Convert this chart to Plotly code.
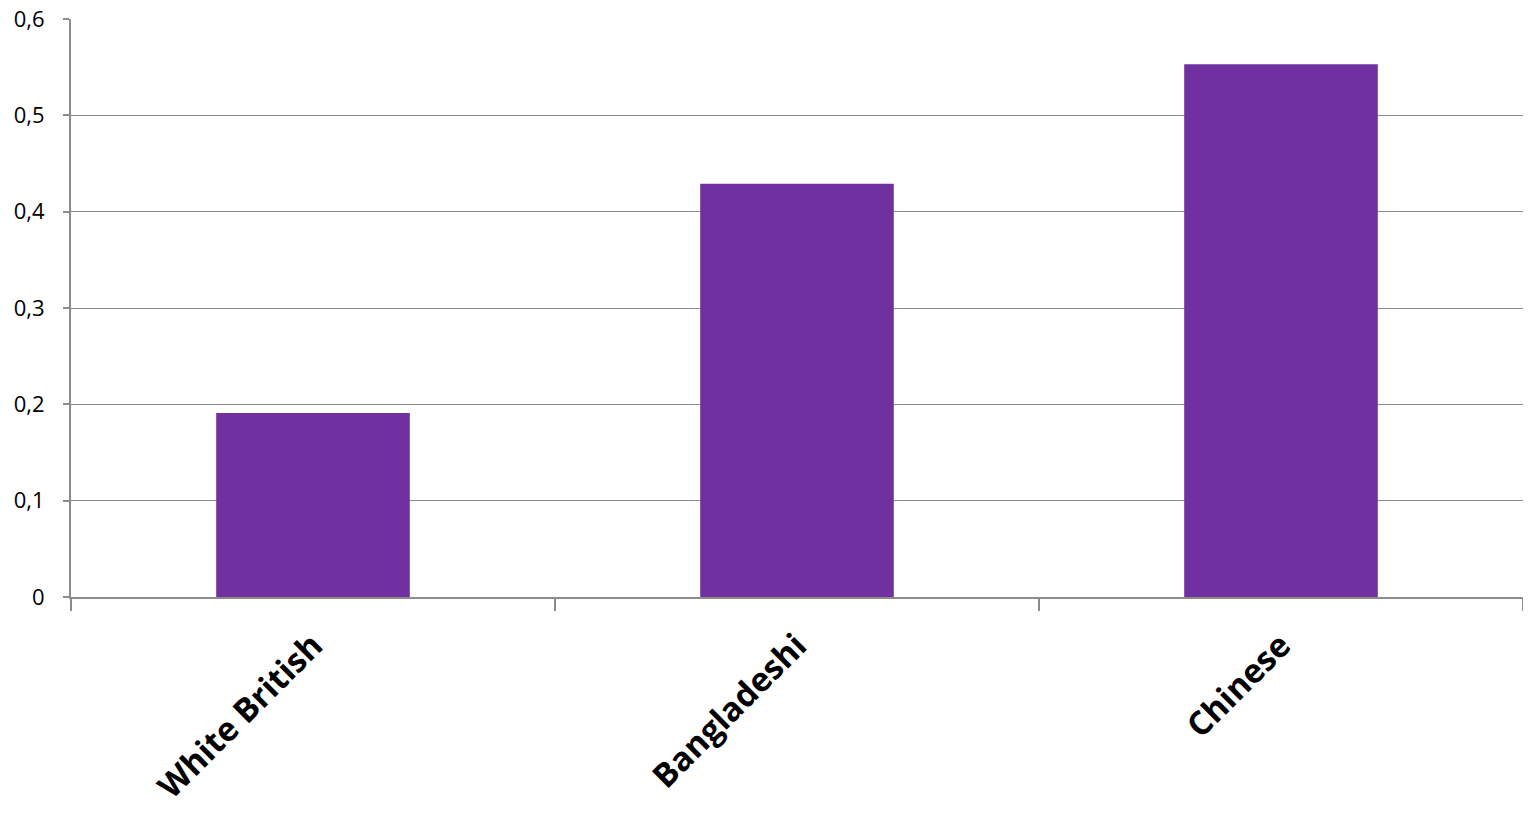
import plotly.graph_objects as go

categories = ["White British", "Bangladeshi", "Chinese"]
values = [0.191, 0.429, 0.553]
ytick_vals = [0, 0.1, 0.2, 0.3, 0.4, 0.5, 0.6]
ytick_text = ["0", "0,1", "0,2", "0,3", "0,4", "0,5", "0,6"]

fig = go.Figure(go.Bar(x=categories, y=values, marker=dict(color="#7030A0", line=dict(width=0)), width=0.4))

fig.update_layout(
    width=1515, height=798,
    margin=dict(l=63, r=0, t=11, b=209),
    plot_bgcolor="white", paper_bgcolor="white",
    showlegend=False,
    bargap=0.6,
    font=dict(family="Open Sans, sans-serif", color="#000000"),
)
fig.update_xaxes(
    automargin=False,
    showline=True, linecolor="#8c8c8c", linewidth=2,
    ticks="outside", tickson="boundaries", ticklen=12, tickwidth=1.5, tickcolor="#8c8c8c",
    tickangle=-45, tickfont=dict(size=33, family="Open Sans, sans-serif", weight="bold"),
    ticklabelstandoff=14,
    showgrid=False,
)
fig.update_yaxes(
    automargin=False,
    range=[0, 0.6], tickvals=ytick_vals, ticktext=ytick_text,
    showline=True, linecolor="#8c8c8c", linewidth=2,
    ticks="outside", ticklen=6, tickwidth=1.5, tickcolor="#8c8c8c",
    showgrid=True, gridcolor="#8c8c8c", gridwidth=1.3,
    tickfont=dict(size=22, family="Open Sans, sans-serif"),
    ticklabelstandoff=14, ticklabeloverflow="allow",
    zeroline=False,
)

fig.write_html("out.html")
